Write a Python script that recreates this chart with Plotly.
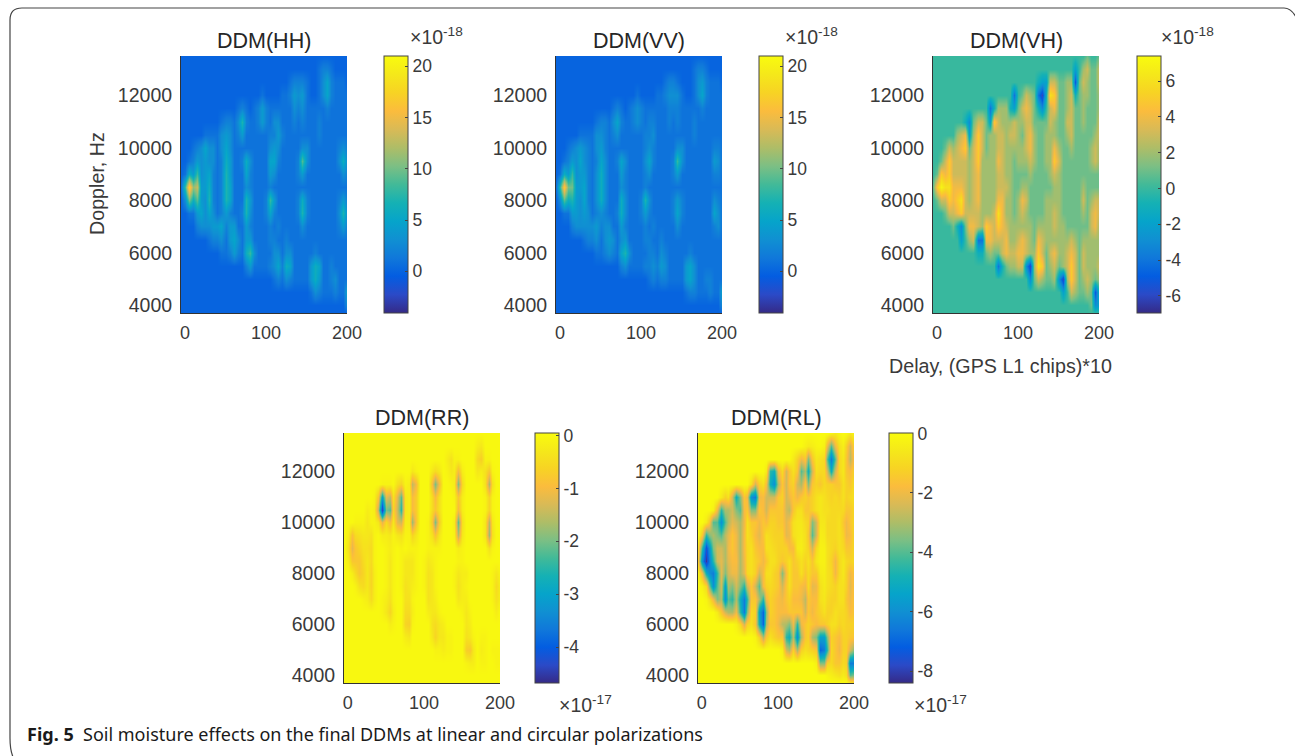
import plotly.graph_objects as go

W, H = 1295, 756

DELAY = [-5, 0, 5, 10, 15, 20, 25, 30, 35, 40, 45, 50, 55, 60, 65, 70, 75, 80, 85, 90, 95, 100, 105, 110, 115,
         120, 125, 130, 135, 140, 145, 150, 155, 160, 165, 170, 175, 180, 185, 190, 195, 200]
DOPPLER = [13500, 13000, 12500, 12000, 11500, 11000, 10500, 10000, 9500, 9000, 8500, 8000, 7500, 7000, 6500,
           6000, 5500, 5000, 4500, 4000, 3700]

O = [0] * 10
I = [1] * 10

Z_HH = [
 O+O+O+O+[0,0],
 O+O+O+[0,0,0,0,1,2,2,1,0,0]+[0,0],
 O+O+[0,0,0,0,0,0,0,1,2,2]+[2,1,0,0,1,3,5,2,1,1]+[1,0],
 O+O+[1,0,0,0,0,1,1,2,4,3]+[4,1,0,0,1,3,5,2,1,1]+[1,1],
 O+[0,0,0,0,1,2,1,0,1,2]+[4,2,1,1,1,1,1,1,3,2]+[3,1,1,1,1,1,2,1,1,1]+[1,1],
 O+[1,2,2,1,3,7,2,1,1,2]+[4,2,1,3,3,1,1,1,2,1]+[2,1,1,1,2,1,1,1,1,1]+[1,1],
 [0,0,0,0,0,0,1,1,1,1]+[3,4,3,1,2,4,1,1,1,1]+[1,1,2,2,4,2,1,1,1,1]+[1,1,1,1,2,1,1,1,1,1]+[1,1],
 [0,0,0,1,2,3,5,3,3,1]+[3,5,3,1,1,1,1,1,1,1]+[1,1,3,4,3,1,1,1,1,1]+[3,3,1,1,1,1,1,1,1,2]+[3,2],
 [0,0,1,2,4,3,4,3,3,1]+[2,6,4,1,1,2,6,3,1,1]+[1,1,5,5,2,1,1,1,1,2]+[9,3,1,1,1,1,1,1,1,3]+[6,3],
 [0,1,6,4,8,3,4,5,2,1]+[2,7,4,1,1,1,5,2,1,1]+[1,1,4,3,1,1,1,1,1,2]+[4,1,1,1,1,1,1,1,1,1]+[3,2],
 [1,8,18,11,13,4,4,6,2,1]+[2,7,5,1,1,1,3,2,1,1]+[1,1,2,1,1,1,1,1,1,1]+I+[1,1],
 [0,3,10,6,9,4,3,7,2,1]+[2,7,5,1,1,1,7,4,1,1]+[1,2,8,4,1,1,1,1,1,2]+[6,2,1,1,1,1,1,1,1,2]+[4,2],
 [0,0,1,1,4,5,3,5,3,1]+[2,4,2,1,1,2,7,3,1,1]+[1,2,5,2,1,1,1,1,1,2]+[7,2,1,1,1,1,1,1,1,3]+[7,3],
 [0,0,0,0,2,3,3,3,4,4]+[5,2,4,4,1,1,4,2,1,1]+[1,1,2,1,2,1,1,1,1,1]+[3,1,1,1,1,1,1,1,1,2]+[4,2],
 [0,0,0,0,0,0,0,1,2,2]+[3,1,4,5,3,1,4,4,1,1]+[1,1,2,2,1,1,2,1,1,1]+I+[1,1],
 O+[1,1,2,4,2,1,6,8,3,1]+[1,1,1,3,3,1,3,3,1,1]+[1,1,1,2,1,1,1,1,1,1]+[1,1],
 O+[0,0,0,0,0,0,2,4,1,1]+[1,1,2,3,5,2,6,5,1,1]+[1,1,4,6,5,1,1,2,1,1]+[1,1],
 O+O+[0,0,0,1,2,1,3,2,1,1]+[1,1,4,6,4,1,1,2,3,1]+[1,1],
 O+O+O+[0,0,1,3,2,1,1,1,2,1]+[1,5],
 O+O+O+O+[0,3],
 O+O+O+O+[0,0],
]

Z_VV = [
 O+O+O+O+[0,0],
 O+O+O+[0,0,0,0,1,2,2,1,0,0]+[0,0],
 O+O+[0,0,0,0,0,0,0,1,2,2]+[1,0,0,0,1,3,4,2,1,1]+[1,0],
 O+O+[1,0,0,0,0,1,1,2,3,3]+[3,1,0,0,1,3,5,2,1,1]+[1,1],
 O+[0,0,0,0,1,2,1,0,1,2]+[3,2,1,1,1,1,1,1,2,2]+[2,1,1,1,1,1,2,1,1,1]+[1,1],
 O+[1,2,2,1,3,5,2,1,1,2]+[3,2,1,2,2,1,1,1,2,1]+[2,1,1,1,2,1,1,1,1,1]+[1,1],
 [0,0,0,0,0,0,1,1,1,1]+[3,3,2,1,2,3,1,1,1,1]+[1,1,2,2,3,1,1,1,1,1]+[1,1,1,1,2,1,1,1,1,1]+[1,1],
 [0,0,0,1,2,3,4,3,2,1]+[3,4,2,1,1,1,1,1,1,1]+[1,1,2,3,2,1,1,1,1,1]+[3,3,1,1,1,1,1,1,1,2]+[2,1],
 [0,0,1,2,4,3,5,3,2,1]+[2,5,3,1,1,2,5,3,1,1]+[1,1,3,5,2,1,1,1,1,2]+[8,3,1,1,1,1,1,1,1,4]+[3,1],
 [0,1,6,4,8,3,4,4,2,1]+[3,6,3,1,1,1,4,2,1,1]+[1,1,2,3,1,1,1,1,1,2]+[4,1,1,1,1,1,1,1,1,2]+[2,1],
 [1,8,17,10,10,4,4,5,2,1]+[3,6,3,1,1,1,3,2,1,1]+[1,1,2,1,1,1,1,1,1,1]+I+[1,1],
 [0,3,9,6,7,4,3,5,2,1]+[3,6,3,1,1,1,6,3,1,1]+[1,2,7,3,1,1,1,1,1,2]+[4,2,1,1,1,1,1,1,1,3]+[2,1],
 [0,0,1,1,4,4,3,4,3,1]+[2,3,2,1,1,2,6,3,1,1]+[1,2,4,2,1,1,1,1,1,2]+[5,2,1,1,1,1,1,1,1,5]+[3,1],
 [0,0,0,0,2,3,3,3,3,3]+[4,2,3,3,1,1,4,2,1,1]+[1,1,2,1,2,1,1,1,1,1]+[3,1,1,1,1,1,1,1,1,2]+[3,1],
 [0,0,0,0,0,0,0,1,2,2]+[3,1,3,4,3,1,3,4,1,1]+[1,1,2,2,1,1,2,1,1,1]+I+[1,1],
 O+[1,1,2,3,2,1,5,7,3,1]+[1,1,1,2,2,1,3,2,1,1]+[1,1,1,2,1,1,1,1,1,1]+[1,1],
 O+[0,0,0,0,0,0,2,3,1,1]+[1,1,2,2,3,2,4,3,1,1]+[1,1,4,5,3,1,1,1,1,1]+[1,1],
 O+O+[0,0,0,1,2,1,2,2,1,1]+[1,1,4,5,3,1,1,2,2,1]+[1,1],
 O+O+O+[0,0,1,2,2,1,1,1,2,1]+[1,5],
 O+O+O+O+[0,3],
 O+O+O+O+[0,0],
]

Z_VH = [
 O+O+O+[0,0,0,0,0,0,0,0,1,0]+[0,1],
 O+O+O+[0,0,0,0,0,-2,0,2,3,1]+[1,3],
 O+O+[0,0,0,0,0,0,-1,-2,-2,3]+[3,1,1,2,2,-5,1,3,2,1]+[1,3],
 O+O+[-4,0,1,3,2,1,-4,-6,-1,6]+[5,1,1,2,3,-1,1,2,2,1]+[1,2],
 O+[0,0,0,0,-4,-1,2,2,2,-1]+[-2,1,3,4,3,1,-1,-3,0,3]+[4,1,1,2,3,1,1,2,1,1]+[1,2],
 [0,0,0,0,0,0,0,0,-1,-3]+[1,3,3,1,-2,5,3,2,2,2]+[3,2,2,3,3,1,1,1,1,3]+[2,1,1,3,3,1,1,2,1,1]+[1,3],
 [0,0,0,0,0,0,2,3,4,-2]+[2,5,3,1,2,2,3,3,2,3]+[3,2,1,3,4,2,1,1,2,2]+[2,1,1,2,3,1,1,1,1,1]+[2,3],
 [0,0,0,1,3,2,3,4,5,1]+[3,5,3,1,2,2,3,3,2,2]+[2,2,2,3,4,2,1,1,2,2]+[4,2,1,1,2,1,1,1,1,2]+[3,2],
 [0,0,1,3,5,3,3,3,3,2]+[3,5,2,2,2,2,4,3,2,2]+[1,2,2,2,3,2,1,1,2,2]+[5,3,1,1,1,1,1,1,1,2]+[3,2],
 [0,1,5,4,5,3,3,3,3,2]+[3,4,2,2,2,2,3,3,2,2]+[1,1,1,1,2,1,1,1,1,2]+[3,2,1,1,1,1,1,1,1,1]+[1,1],
 [1,5,7,6,6,4,4,4,3,2]+[3,4,2,2,2,2,3,3,3,2]+[1,1,2,2,1,1,1,1,1,1]+[2,2,1,1,1,1,1,2,1,1]+[1,1],
 [0,1,3,3,5,4,5,6,3,2]+[3,4,2,2,2,2,4,4,2,2]+[1,2,4,3,1,1,1,1,2,2]+[2,2,1,1,1,1,1,3,1,2]+[3,3],
 [0,0,0,1,3,3,4,5,3,3]+[3,3,2,2,2,3,6,4,2,2]+[1,2,3,2,1,1,1,1,2,2]+[3,2,1,1,1,1,1,2,1,3]+[4,3],
 [0,0,0,0,0,1,-1,-3,1,4]+[4,3,2,5,4,3,5,4,3,2]+[2,2,2,2,2,1,2,2,2,2]+[3,2,2,1,1,1,1,1,1,3]+[4,2],
 [0,0,0,0,0,0,0,-2,0,2]+[3,-4,-4,4,4,3,3,3,4,2]+[2,3,4,3,2,1,4,3,2,2]+[2,2,2,2,3,2,1,2,2,2]+[2,2],
 O+[0,-1,-1,1,2,1,1,3,4,3]+[3,4,4,3,2,2,5,3,1,3]+[4,2,2,3,4,3,1,3,2,2]+[2,2],
 O+[0,0,0,0,0,0,-4,-1,1,2]+[2,3,3,-3,-6,2,6,5,1,2]+[3,1,2,3,5,3,1,3,2,2]+[2,3],
 O+O+[0,0,0,0,-3,1,3,2,1,1]+[2,-3,-6,2,5,3,1,2,3,2]+[1,2],
 O+O+O+[0,0,-2,0,3,2,1,1,2,1]+[-5,-1],
 O+O+O+[0,0,0,0,0,0,0,0,0,1]+[-3,-2],
 O+O+O+O+[0,0],
]

Z_RR = [
 O+O+O+O+[0,0],
 O+O+O+[0,0,0,0,0,-2,-3,0,0,0]+[0,0],
 O+O+[0,0,0,0,0,0,0,-2,-4,-1]+[-1,0,0,0,0,-5,-7,-1,-1,0]+[0,0],
 O+[0,0,0,0,0,0,0,0,-3,-1]+[0,0,0,-3,-5,-3,0,-1,-3,-2]+[-10,-2,0,0,0,-3,-2,-4,-8,-1]+[0,0],
 O+[-1,-1,-1,0,-4,-6,-1,-2,-15,-10]+[0,0,0,-10,-20,-10,0,0,-1,-2]+[-20,-5,0,0,0,0,0,-4,-17,-4]+[0,0],
 [0,0,0,0,0,0,0,0,-1,-8]+[-30,-12,-15,-4,-12,-22,-3,-2,-10,-7]+[0,0,0,-5,-10,-4,0,0,0,-1]+[-8,-2,0,0,0,0,0,-1,-6,-1]+[0,0],
 [0,0,0,0,0,0,-2,-1,-2,-15]+[-44,-20,-22,-6,-14,-25,-3,-2,-10,-7]+[0,0,0,-5,-8,-4,0,0,0,0]+[-10,-2,0,0,0,0,0,-1,-6,-1]+[0,0],
 [0,0,0,-1,-1,-1,-3,-1,-1,-3]+[-12,-5,-10,-3,-12,-14,-2,-2,-18,-8]+[0,0,-1,-8,-20,-7,0,0,0,-2]+[-22,-4,0,0,0,0,0,-3,-16,-3]+[0,0],
 [0,-2,-9,-5,-4,-3,-3,-4,-1,0]+[-2,-2,-3,-1,-3,-4,-1,-1,-6,-3]+[0,0,-1,-4,-9,-3,0,0,0,-1]+[-16,-3,0,0,0,0,0,-3,-18,-4]+[0,0],
 [0,-4,-12,-8,-6,-4,-4,-5,-1,0]+[0,-1,-2,-1,0,-1,0,-1,-1,-1]+[0,0,-1,-1,-1,-1,0,0,0,0]+[-2,-1,0,0,0,0,0,0,-4,-1]+[0,0],
 [0,-2,-8,-8,-8,-5,-3,-5,-1,0]+[0,-1,-3,-1,0,-1,-3,-3,-3,-1]+[0,-1,-3,-2,-1,0,0,0,0,0]+[-1,-1,0,0,0,0,0,0,0,0]+[0,0],
 [0,0,-2,-5,-8,-6,-3,-6,-2,0]+[0,-1,-3,-1,0,-1,-3,-3,-3,-1]+[0,-1,-4,-3,-1,0,0,0,0,-1]+[-3,-2,-2,0,0,0,0,0,0,-1]+[-3,-1],
 [0,0,0,-1,-4,-5,-3,-6,-2,0]+[0,-1,-3,-1,0,-1,-4,-3,-2,-1]+[0,-1,-4,-3,-1,0,0,0,0,-1]+[-4,-2,-1,0,0,0,0,0,0,-1]+[-5,-2],
 [0,0,0,0,0,-1,-2,-5,-2,0]+[-1,-2,-4,-1,0,0,-4,-4,-1,0]+[0,0,-4,-3,-2,0,0,0,0,0]+[-3,-2,-2,0,0,0,0,0,0,-1]+[-4,-2],
 O+[-1,-3,-6,-2,0,0,-5,-5,-2,0]+[0,0,-2,-3,-3,-1,0,0,0,0]+[0,-1,-3,-1,0,0,0,0,0,0]+[-2,0],
 O+[0,0,-2,-1,0,0,-6,-7,-1,0]+[0,0,0,-4,-5,-3,-2,0,0,0]+[0,0,-3,-2,0,0,0,0,0,0]+[0,0],
 O+[0,0,0,0,0,0,-2,-3,0,0]+[0,0,0,-3,-6,-3,-3,-1,-1,0]+[0,0,-4,-3,-1,0,-1,-1,0,0]+[0,0],
 O+O+[0,0,0,0,-1,-1,-2,-1,-1,0]+[0,0,-7,-8,-3,0,-2,-1,0,-1]+[-1,-1],
 O+O+O+[0,0,-1,-2,-2,0,-1,-1,0,0]+[-1,-1],
 O+O+O+O+[0,0],
 O+O+O+O+[0,0],
]

Z_RL = [
 O+O+O+[0,0,0,0,0,-2,-5,-2,0,-1]+[-5,-2],
 O+O+[0,0,0,0,0,0,0,0,-3,-5]+[-4,-2,-1,-3,-20,-40,-20,-8,-4,-12]+[-25,-10],
 O+O+[0,0,0,0,0,-5,-12,-20,-15,-35]+[-15,-6,-8,-10,-40,-65,-40,-10,-6,-15]+[-28,-15],
 O+[0,0,0,0,0,0,0,0,-5,-45]+[-50,-20,-10,-25,-15,-8,-15,-40,-30,-50]+[-25,-8,-10,-10,-25,-50,-25,-10,-6,-15]+[-18,-12],
 O+[0,0,0,0,-8,-25,-12,-8,-18,-50]+[-60,-30,-15,-25,-15,-12,-25,-30,-15,-35]+[-15,-12,-15,-10,-12,-12,-15,-15,-8,-12]+[-15,-8],
 [0,0,0,0,0,0,-5,-12,-8,-25]+[-50,-35,-15,-20,-60,-65,-20,-18,-25,-25]+[-25,-15,-12,-25,-20,-15,-20,-15,-12,-15]+[-12,-8,-6,-8,-10,-12,-10,-12,-8,-12]+[-10,-8],
 [0,0,0,0,-3,-20,-45,-30,-30,-25]+[-35,-40,-18,-15,-35,-35,-15,-18,-25,-15]+[-15,-15,-15,-25,-28,-15,-8,-8,-15,-15]+[-12,-8,-6,-8,-8,-10,-10,-10,-10,-15]+[-15,-10],
 [0,0,-5,-15,-40,-40,-60,-40,-30,-22]+[-25,-30,-20,-8,-15,-15,-20,-15,-18,-12]+[-12,-15,-15,-22,-18,-8,-6,-6,-10,-12]+[-35,-25,-6,-6,-10,-10,-10,-8,-15,-20]+[-15,-10],
 [0,-15,-45,-35,-30,-35,-40,-28,-22,-15]+[-20,-30,-18,-8,-12,-18,-22,-15,-8,-10]+[-12,-12,-12,-22,-20,-8,-6,-5,-8,-15]+[-40,-25,-4,-5,-10,-10,-10,-8,-12,-20]+[-18,-10],
 [-10,-45,-75,-60,-35,-25,-25,-30,-20,-15]+[-20,-30,-18,-10,-8,-15,-18,-18,-8,-8]+[-10,-12,-12,-12,-18,-18,-5,-4,-8,-12]+[-25,-10,-3,-3,-8,-10,-12,-8,-10,-15]+[-15,-10],
 [-15,-60,-82,-65,-45,-25,-22,-30,-22,-18]+[-18,-30,-20,-10,-8,-12,-15,-20,-15,-8]+[-8,-12,-15,-12,-8,-15,-12,-8,-12,-8]+[-15,-6,-3,-3,-8,-12,-20,-10,-6,-10]+[-12,-10],
 [-3,-20,-50,-60,-65,-45,-22,-35,-25,-20]+[-20,-30,-22,-10,-8,-12,-25,-18,-8,-8]+[-12,-15,-35,-18,-8,-15,-15,-8,-15,-10]+[-15,-15,-5,-4,-8,-10,-20,-10,-6,-12]+[-20,-15],
 [0,-3,-10,-35,-60,-40,-25,-55,-30,-35]+[-25,-35,-45,-25,-15,-25,-40,-18,-12,-10]+[-12,-15,-25,-15,-8,-15,-15,-18,-20,-10]+[-22,-20,-8,-5,-8,-10,-12,-8,-8,-12]+[-22,-15],
 [0,0,-2,-8,-20,-35,-30,-60,-40,-45]+[-30,-50,-65,-45,-15,-15,-30,-45,-20,-12]+[-15,-18,-20,-15,-12,-18,-18,-20,-28,-15]+[-18,-18,-8,-6,-10,-12,-12,-8,-8,-15]+[-20,-15],
 [0,0,0,0,0,-5,-15,-25,-30,-30]+[-20,-45,-65,-35,-10,-12,-55,-70,-35,-12]+[-15,-18,-18,-18,-15,-15,-15,-15,-25,-15]+[-20,-15,-12,-8,-12,-12,-8,-10,-10,-12]+[-18,-15],
 O+[-3,-10,-25,-12,-8,-15,-50,-70,-30,-15]+[-15,-20,-28,-30,-35,-20,-45,-20,-15,-12]+[-15,-18,-15,-15,-12,-8,-8,-12,-10,-12]+[-12,-12],
 O+[0,0,0,0,0,-2,-12,-30,-15,-8]+[-12,-15,-15,-45,-50,-30,-60,-30,-15,-12]+[-30,-35,-55,-55,-35,-12,-15,-18,-12,-12]+[-15,-15],
 O+O+[0,0,-3,-25,-30,-12,-30,-12,-8,-10]+[-12,-15,-70,-65,-45,-10,-15,-20,-12,-12]+[-25,-35],
 O+O+O+[0,-3,-35,-35,-12,-10,-15,-15,-10,-12]+[-65,-65],
 O+O+O+[0,0,0,0,-2,-4,-6,-8,-5,-8]+[-40,-35],
 O+O+O+O+[-5,-8],
]

PARULA = ["#352A87", "#2B4AC7", "#035DE1", "#1078DA", "#1090D2", "#06A4CA", "#15B1B4", "#42BA98",
          "#7CBF84", "#AEBD67", "#D9BA56", "#FBBC3D", "#F7D324", "#F5E81A", "#F9FB0E"]
SCALE = [[i / (len(PARULA) - 1), c] for i, c in enumerate(PARULA)]

INK = "#3a3a3a"
FONT = "Liberation Sans"

PANELS = [
    ("DDM(HH)", Z_HH, 181, 347, 56, 313, 384, (-4.07, 21), [0, 5, 10, 15, 20], ["0", "5", "10", "15", "20"], "-18", (408, 36)),
    ("DDM(VV)", Z_VV, 556, 722, 56, 313, 759, (-4.07, 21), [0, 5, 10, 15, 20], ["0", "5", "10", "15", "20"], "-18", (783, 36)),
    ("DDM(VH)", Z_VH, 933, 1099, 56, 313, 1137, (-6.95, 7.4), [-6, -4, -2, 0, 2, 4, 6], ["-6", "-4", "-2", "0", "2", "4", "6"], "-18", (1159, 36)),
    ("DDM(RR)", Z_RR, 344, 500, 433, 683, 535, (-46.8, 0.5), [-40, -30, -20, -10, 0], ["-4", "-3", "-2", "-1", "0"], "-17", (557, 704)),
    ("DDM(RL)", Z_RL, 698, 854, 433, 683, 889, (-84, 0.2), [-80, -60, -40, -20, 0], ["-8", "-6", "-4", "-2", "0"], "-17", (912, 704)),
]

fig = go.Figure()
anns = []
layout_axes = {}
for i, (title, z, x0, x1, y0, y1, cx, zr, cticks, clabels, exp, epos) in enumerate(PANELS, start=1):
    sfx = "" if i == 1 else str(i)
    fig.add_trace(go.Heatmap(
        x=DELAY, y=DOPPLER, z=z, zsmooth="best", colorscale=SCALE, zmin=zr[0], zmax=zr[1],
        xaxis="x" + sfx, yaxis="y" + sfx, hoverinfo="skip",
        colorbar=dict(x=cx / W, xanchor="left", xpad=0, ypad=0, y=1 - y0 / H, yanchor="top",
                      len=(y1 - y0) / H, lenmode="fraction", thickness=24, thicknessmode="pixels",
                      outlinecolor="#444444", outlinewidth=1, tickmode="array", tickvals=cticks,
                      ticktext=clabels, ticks="inside", ticklen=3, tickcolor="#444444",
                      tickfont=dict(family=FONT, size=17.5, color=INK)),
    ))
    layout_axes["xaxis" + sfx] = dict(domain=[x0 / W, x1 / W], range=[-5, 200], anchor="y" + sfx,
                                      tickvals=[0, 100, 200], ticks="", showgrid=False, zeroline=False,
                                      showline=True, linecolor="#333333", linewidth=1, ticklabelstandoff=3,
                                      tickfont=dict(family=FONT, size=18, color=INK))
    layout_axes["yaxis" + sfx] = dict(domain=[1 - y1 / H, 1 - y0 / H], range=[3700, 13500], anchor="x" + sfx,
                                      tickvals=[4000, 6000, 8000, 10000, 12000], tickformat="d", ticks="",
                                      showgrid=False, zeroline=False, showline=True, linecolor="#333333",
                                      linewidth=1, ticklabelstandoff=4, tickfont=dict(family=FONT, size=19.5, color=INK))
    anns.append(dict(text=title, x=(x0 + x1) / 2 / W, y=1 - (y0 - 1) / H, xref="paper", yref="paper",
                     xanchor="center", yanchor="bottom", showarrow=False,
                     font=dict(family=FONT, size=21.5, color="#262626")))
    anns.append(dict(text="×10<sup>" + exp + "</sup>", x=epos[0] / W, y=1 - epos[1] / H, xref="paper", yref="paper",
                     xanchor="left", yanchor="middle", showarrow=False,
                     font=dict(family=FONT, size=19.5, color=INK)))

anns.append(dict(text="Doppler, Hz", x=97 / W, y=1 - 184 / H, xref="paper", yref="paper", textangle=-90,
                 showarrow=False, xanchor="center", yanchor="middle", font=dict(family=FONT, size=19.7, color=INK)))
anns.append(dict(text="Delay, (GPS L1 chips)*10", x=1000 / W, y=1 - 366 / H, xref="paper", yref="paper",
                 showarrow=False, xanchor="center", yanchor="middle", font=dict(family=FONT, size=19.7, color=INK)))
anns.append(dict(text="<b>Fig. 5</b>  Soil moisture effects on the final DDMs at linear and circular polarizations",
                 x=25 / W, y=1 - 734 / H, xref="paper", yref="paper", showarrow=False, xanchor="left", yanchor="middle",
                 font=dict(family="Noto Sans", size=18, color="#1a1a1a")))


def px(x, y):
    return f"{x / W:.5f},{1 - y / H:.5f}"


frame = (f"M {px(13, 757)} Q {px(10, 750)} {px(10, 738)} L {px(10, 20)} Q {px(10, 8)} {px(22, 8)} "
         f"L {px(1284, 8)} Q {px(1291, 8)} {px(1296, 17)}")

fig.update_layout(
    width=W, height=H, autosize=False, margin=dict(l=0, r=0, t=0, b=0, autoexpand=False),
    paper_bgcolor="white", plot_bgcolor="white", showlegend=False,
    annotations=anns,
    shapes=[dict(type="path", xref="paper", yref="paper", path=frame, line=dict(color="#444444", width=1.2))],
    **layout_axes,
)
fig.write_html("out.html", config={"displayModeBar": False},
               post_script="document.body.style.margin='0';document.body.style.overflow='hidden';")
